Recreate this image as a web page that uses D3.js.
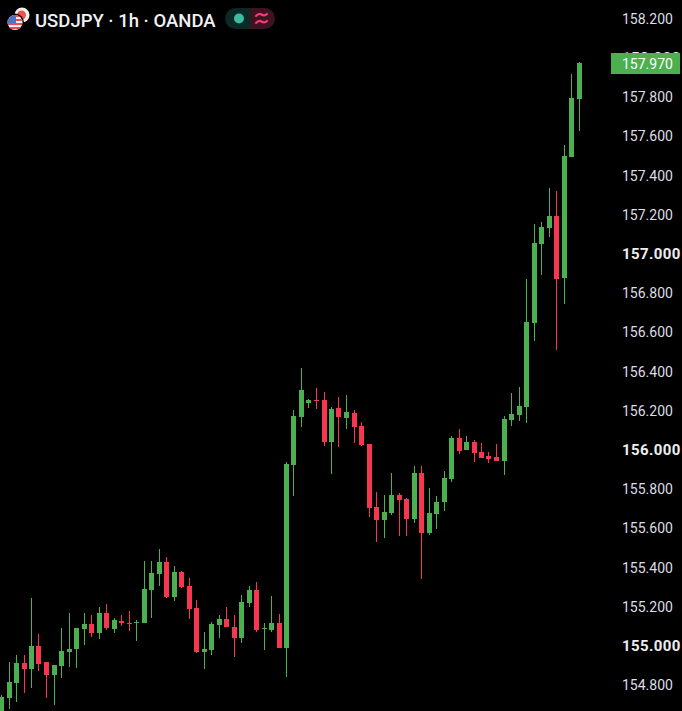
<!DOCTYPE html>
<html>
<head>
<meta charset="utf-8">
<script src="https://cdn.jsdelivr.net/npm/d3@7"></script>
<style>
    html, body { margin: 0; padding: 0; background: #000; overflow: hidden; }
    text { font-family: Roboto, sans-serif; }
    .axis text { font-size: 14px; fill: #dcdee4; }
    .axis text.whole { font-size: 15px; font-weight: 700; letter-spacing: 0.4px; fill: #eceef2; }
</style>
</head>
<body>
<div class="chart"></div>
<script>
// USDJPY 1h candles, oldest first
const open = [154.62, 154.732, 154.809, 154.911, 154.88, 154.997, 154.916, 154.849, 154.895, 154.967,
    154.982, 155.084, 155.11, 155.064, 155.166, 155.084, 155.125, 155.115, 155.115, 155.115,
    155.283, 155.365, 155.426, 155.247, 155.375, 155.304, 155.191, 154.967, 154.977, 155.105,
    155.135, 155.094, 155.038, 155.217, 155.283, 155.084, 155.079, 155.115, 154.987, 155.921,
    156.166, 156.237, 156.253, 156.253, 156.038, 156.212, 156.161, 156.186, 156.12, 156.028,
    155.707, 155.64, 155.676, 155.768, 155.747, 155.645, 155.88, 155.574, 155.671, 155.732,
    155.849, 156.059, 155.997, 156.038, 155.987, 155.967, 155.962, 155.941, 156.151, 156.176,
    156.217, 156.645, 157.048, 157.13, 157.191, 156.875, 157.492, 157.788];
const high = [154.747, 154.916, 154.952, 154.952, 155.242, 155.059, 154.916, 154.901, 155.089, 155.166,
    155.089, 155.166, 155.156, 155.196, 155.212, 155.14, 155.156, 155.176, 155.13, 155.431,
    155.431, 155.492, 155.452, 155.406, 155.38, 155.344, 155.232, 155.069, 155.12, 155.156,
    155.196, 155.156, 155.258, 155.304, 155.324, 155.115, 155.253, 155.161, 155.936, 156.202,
    156.416, 156.258, 156.314, 156.293, 156.217, 156.268, 156.278, 156.202, 156.14, 156.028,
    155.783, 155.768, 155.88, 155.778, 155.753, 155.916, 155.916, 155.804, 155.763, 155.89,
    156.069, 156.105, 156.069, 156.048, 156.033, 155.987, 156.028, 156.171, 156.288, 156.319,
    156.87, 157.151, 157.161, 157.334, 157.319, 157.554, 157.916, 157.977];
const low = [154.59, 154.676, 154.712, 154.758, 154.783, 154.87, 154.732, 154.696, 154.834, 154.89,
    154.885, 155.003, 155.043, 155.033, 155.079, 155.064, 155.099, 155.074, 155.023, 155.115,
    155.14, 155.304, 155.242, 155.227, 155.293, 155.135, 154.962, 154.88, 154.952, 155.038,
    155.094, 154.941, 155.013, 155.196, 155.069, 154.977, 155.069, 154.987, 154.839, 155.763,
    156.115, 156.212, 156.207, 156.018, 155.875, 156.013, 156.105, 156.033, 156.018, 155.656,
    155.528, 155.548, 155.666, 155.559, 155.559, 155.625, 155.339, 155.564, 155.594, 155.686,
    155.834, 155.977, 155.997, 155.936, 155.957, 155.931, 155.941, 155.87, 156.12, 156.145,
    156.135, 156.554, 156.89, 157.084, 156.508, 156.742, 157.492, 157.625];
const close = [154.737, 154.814, 154.911, 154.88, 154.997, 154.906, 154.849, 154.901, 154.972, 154.982,
    155.089, 155.11, 155.064, 155.166, 155.089, 155.13, 155.115, 155.11, 155.12, 155.288,
    155.37, 155.426, 155.247, 155.375, 155.298, 155.186, 154.967, 154.982, 155.11, 155.135,
    155.094, 155.038, 155.222, 155.283, 155.079, 155.089, 155.115, 154.987, 155.926, 156.171,
    156.304, 156.253, 156.247, 156.038, 156.207, 156.166, 156.191, 156.115, 156.023, 155.702,
    155.64, 155.681, 155.768, 155.742, 155.645, 155.88, 155.574, 155.676, 155.732, 155.855,
    156.059, 155.992, 156.038, 155.982, 155.957, 155.952, 155.941, 156.156, 156.181, 156.222,
    156.651, 157.054, 157.135, 157.191, 156.87, 157.497, 157.793, 157.97];

const priceTicks = [158.2, 158, 157.8, 157.6, 157.4, 157.2, 157, 156.8, 156.6, 156.4, 156.2, 156,
    155.8, 155.6, 155.4, 155.2, 155, 154.8];
const lastPrice = 157.97;
const title = 'USDJPY · 1h · OANDA';

const width = 682, height = 711;
const upColor = '#4caf50', downColor = '#f7374f';

const candles = open.map((o, i) => ({ i, o, h: high[i], l: low[i], c: close[i] }));

const x = d3.scaleLinear().domain([0, candles.length - 1]).range([1.5, 579]);
const y = d3.scaleLinear().domain([155, 157]).range([645.5, 253.5]);

const svg = d3.select('.chart').append('svg')
    .attr('width', width)
    .attr('height', height)
    .style('display', 'block')
    .style('background', '#000');

const color = d => d.c >= d.o ? upColor : downColor;

let bars = svg.append('g').attr('shape-rendering', 'crispEdges')
    .selectAll('.candle')
    .data(candles)
    .enter().append('g')
    .attr('class', 'candle')
    .attr('fill', color);

// wick
bars.append('rect')
    .attr('x', d => Math.floor(x(d.i)))
    .attr('width', 1)
    .attr('y', d => Math.round(y(d.h)))
    .attr('height', d => Math.max(1, Math.round(y(d.l)) - Math.round(y(d.h))));

// body
bars.append('rect')
    .attr('x', d => Math.floor(x(d.i)) - 2)
    .attr('width', 5)
    .attr('y', d => Math.round(y(Math.max(d.o, d.c))))
    .attr('height', d => Math.max(1, Math.round(y(Math.min(d.o, d.c))) - Math.round(y(Math.max(d.o, d.c)))));

// price axis
let yAxis = d3.axisRight(y)
    .tickValues(priceTicks)
    .tickSize(0)
    .tickPadding(0)
    .tickFormat(d3.format('.3f'));

let axisG = svg.append('g')
    .attr('class', 'axis')
    .attr('transform', 'translate(622,0.5)')
    .call(yAxis);
axisG.select('.domain').remove();
axisG.selectAll('text').classed('whole', d => Number.isInteger(d));

// last price tag
svg.append('rect')
    .attr('x', 611)
    .attr('y', 53)
    .attr('width', 69)
    .attr('height', 21)
    .attr('fill', upColor);
svg.append('text')
    .attr('x', 622)
    .attr('y', y(lastPrice) + 0.5)
    .attr('dy', '0.35em')
    .attr('font-size', 14)
    .attr('fill', '#fff')
    .text(d3.format('.3f')(lastPrice));

// header
let header = svg.append('g');
header.append('text')
    .attr('x', 35)
    .attr('y', 27)
    .attr('font-size', 18.5)
    .attr('font-weight', 500)
    .attr('fill', '#f0f1f4')
    .text(title);

// jp flag behind the us flag
header.append('circle').attr('cx', 22).attr('cy', 15).attr('r', 7.5).attr('fill', '#f1f1f1');
header.append('circle').attr('cx', 21.5).attr('cy', 15).attr('r', 4.5).attr('fill', '#f0524f');
header.append('circle').attr('cx', 15).attr('cy', 22.5).attr('r', 9).attr('fill', '#000');

let defs = svg.append('defs');
defs.append('clipPath').attr('id', 'usClip')
    .append('circle').attr('cx', 15).attr('cy', 22.5).attr('r', 7.5);
let us = header.append('g').attr('clip-path', 'url(#usClip)');
us.append('rect').attr('x', 7).attr('y', 15).attr('width', 16).attr('height', 15).attr('fill', '#eef0f4');
d3.range(4).forEach(k => {
    us.append('rect').attr('x', 7).attr('y', 15 + k * 4).attr('width', 16).attr('height', 2).attr('fill', '#ea4c50');
});
us.append('rect').attr('x', 7).attr('y', 15).attr('width', 9).attr('height', 8).attr('fill', '#4a76c9');

// market status pill
header.append('path').attr('d', 'M250 8H235.5a10.5 10.5 0 0 0 0 21H250Z').attr('fill', '#0b2a27');
header.append('path').attr('d', 'M250 8H264.5a10.5 10.5 0 0 1 0 21H250Z').attr('fill', '#3d1222');
header.append('circle').attr('cx', 239).attr('cy', 18.5).attr('r', 5).attr('fill', '#3dbd9f');
header.append('path')
    .attr('d', 'M256 16c2-2.5 4-2.5 5.5-1.5s3.500 1.500 5.500-0.500M256 23c2-2.500 4-2.500 5.500-1.500s3.500 1.500 5.500-0.500')
    .attr('fill', 'none')
    .attr('stroke', '#f23a6d')
    .attr('stroke-width', 2.2)
    .attr('stroke-linecap', 'round');
</script>
</body>
</html>
